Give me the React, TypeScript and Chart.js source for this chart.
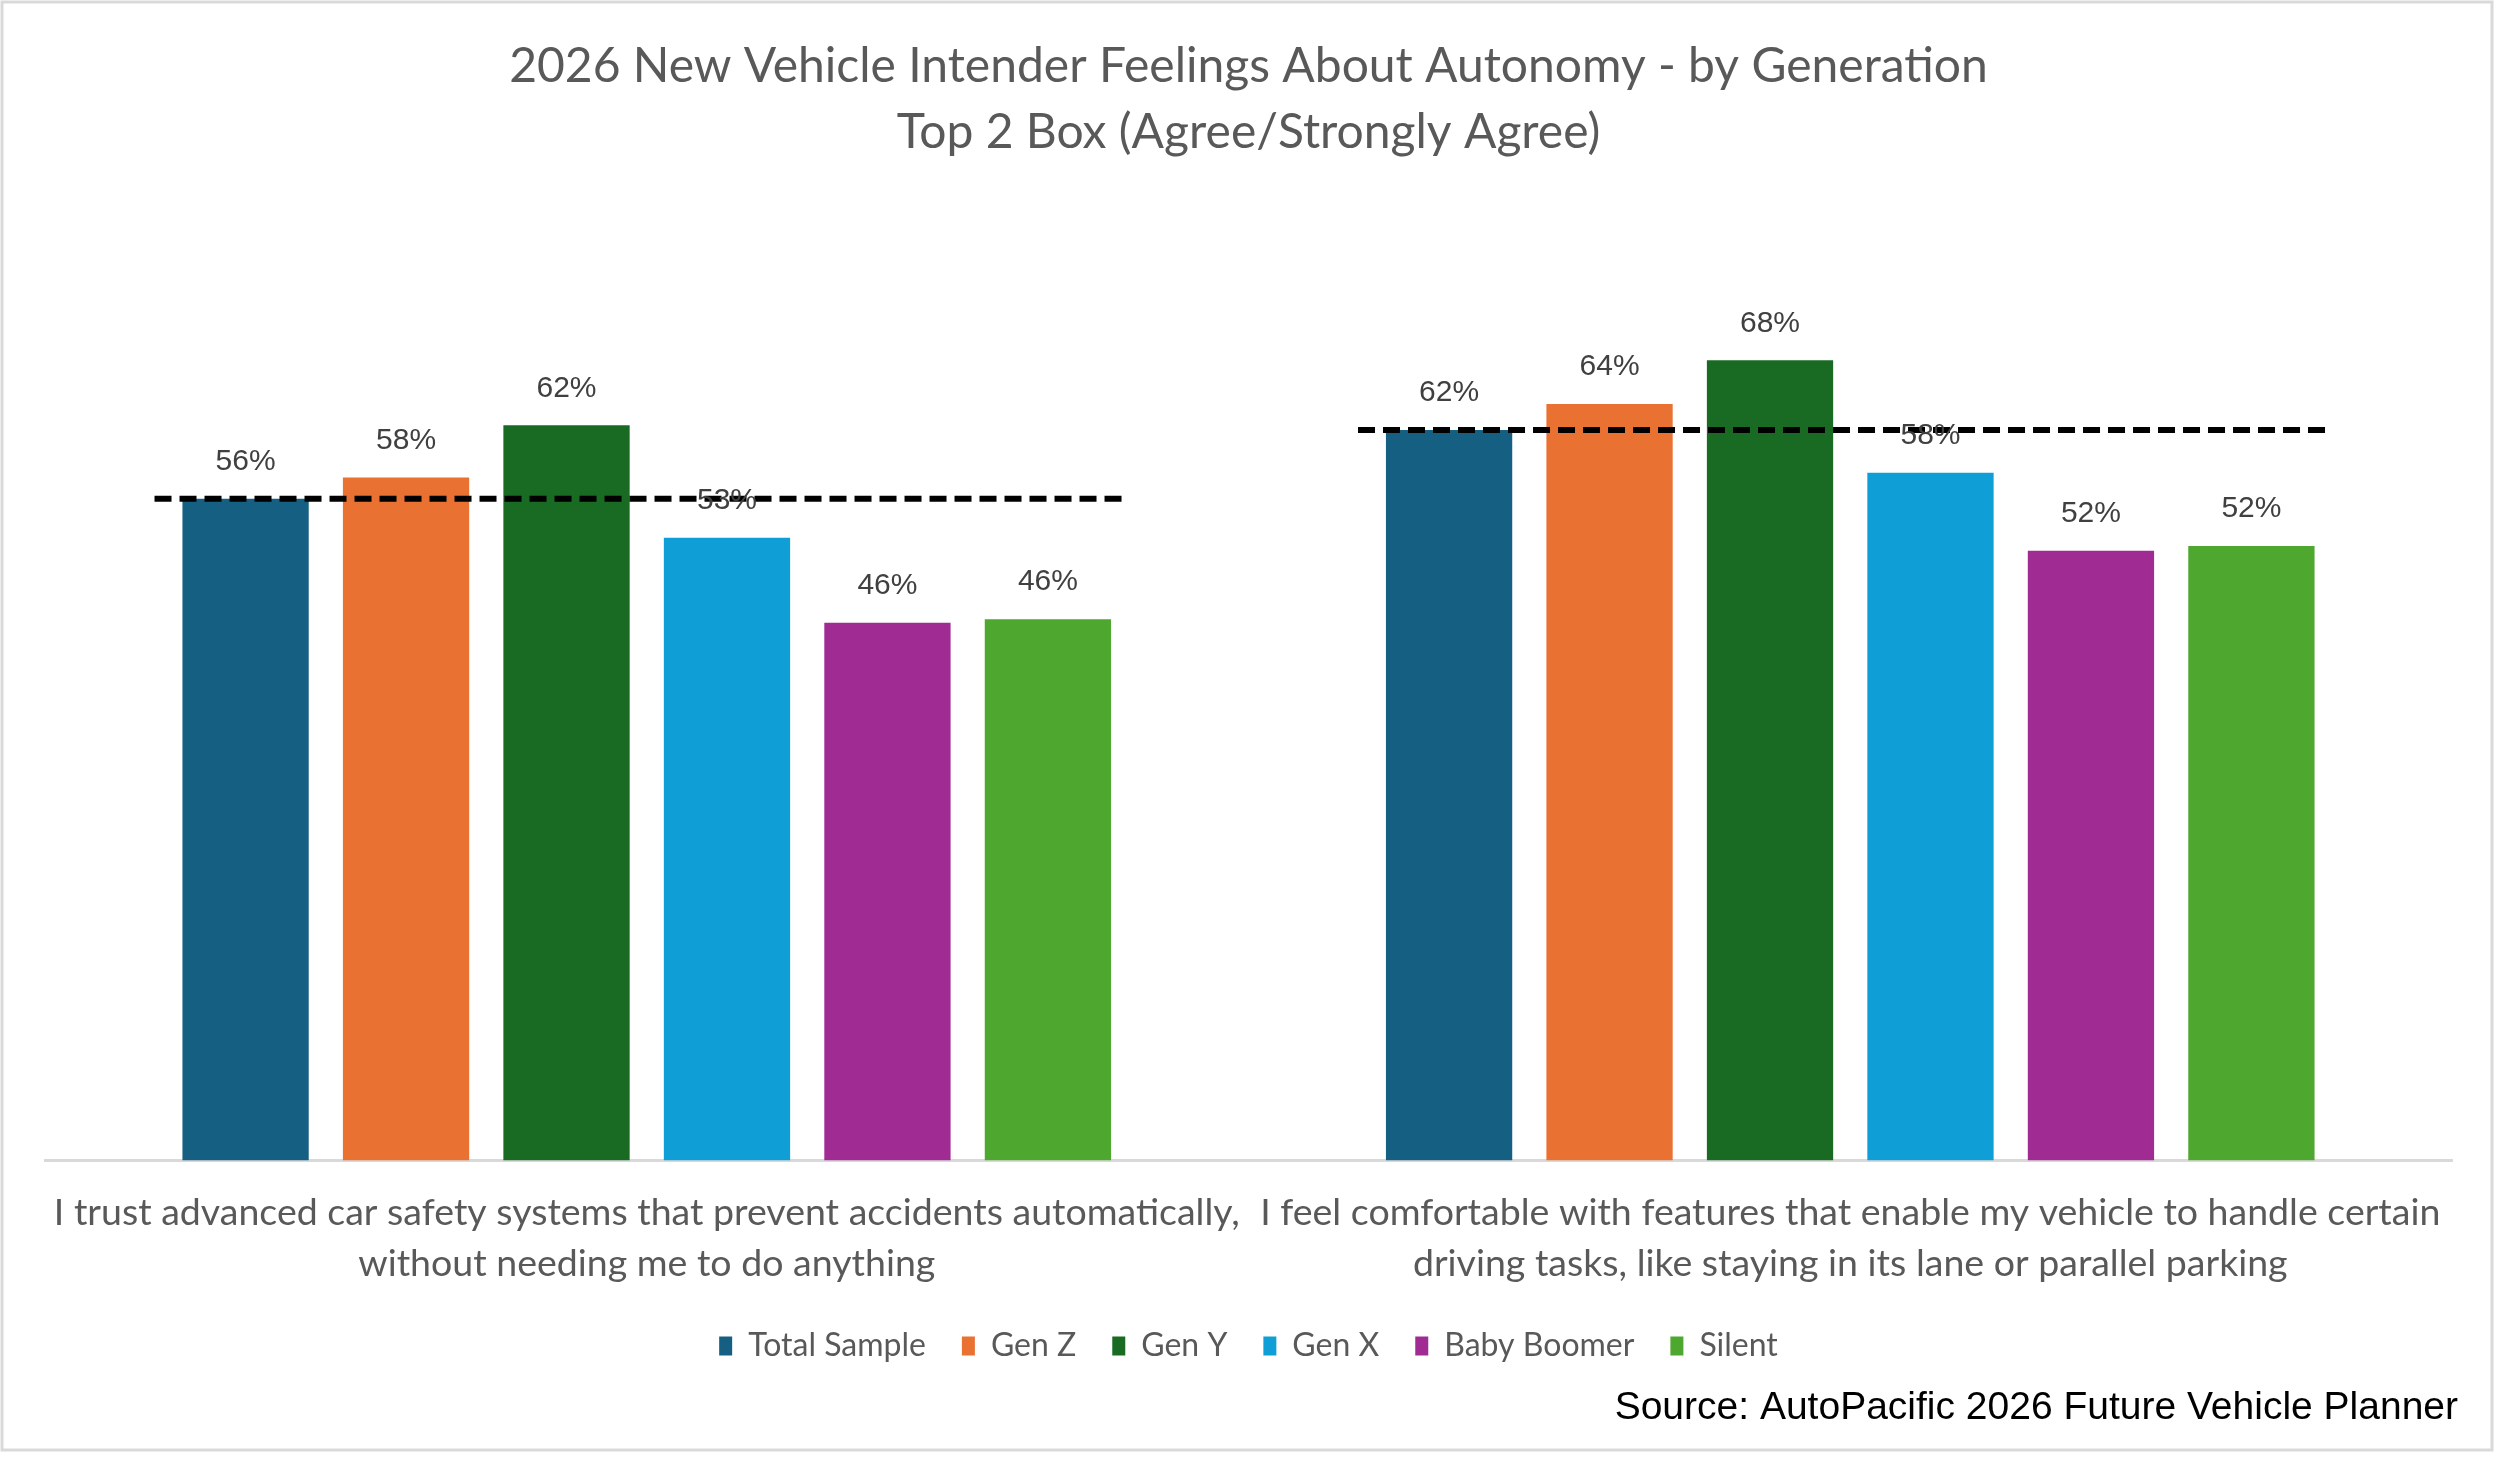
import React, { useRef, useEffect } from "react";
import { Chart, registerables } from "chart.js";

Chart.register(...registerables);

const categories = [
  ["I trust advanced car safety systems that prevent accidents automatically,", "without needing me to do anything"],
  ["I feel comfortable with features that enable my vehicle to handle certain", "driving tasks, like staying in its lane or parallel parking"],
];
const seriesNames = ["Total Sample", "Gen Z", "Gen Y", "Gen X", "Baby Boomer", "Silent"];
const seriesColors = ["#156082", "#E97132", "#196B24", "#0F9ED5", "#A02B93", "#4EA72E"];
const totalSample = [56.0, 61.8];
const genZ = [57.8, 64.0];
const genY = [62.2, 67.7];
const genX = [52.7, 58.2];
const babyBoomer = [45.5, 51.6];
const silent = [45.8, 52.0];
const seriesValues = [totalSample, genZ, genY, genX, babyBoomer, silent];
const sourceNote = "Source: AutoPacific 2026 Future Vehicle Planner";

const AXIS_FONT = "Lato";
const GRAY = "#595959";

// frame, dashed "Total Sample" reference line, value labels and source note
const overlayPlugin = {
  id: "overlay",
  beforeDraw(chart: any) {
    const { ctx, width, height } = chart;
    ctx.save();
    ctx.fillStyle = "#ffffff";
    ctx.fillRect(0, 0, width, height);
    ctx.strokeStyle = "#d9d9d9";
    ctx.lineWidth = 3;
    ctx.strokeRect(2, 2, width - 10, height - 10);
    ctx.restore();
  },
  afterDatasetsDraw(chart: any) {
    const { ctx } = chart;
    const x = chart.scales.x;
    const y = chart.scales.y;
    const catW = x.width / categories.length;
    ctx.save();
    ctx.strokeStyle = "#000000";
    ctx.lineWidth = 6;
    ctx.setLineDash([17, 8]);
    totalSample.forEach((v, i) => {
      const cx = x.getPixelForValue(i);
      const py = y.getPixelForValue(v);
      ctx.beginPath();
      ctx.moveTo(cx - catW * 0.409, py);
      ctx.lineTo(cx + catW * 0.4, py);
      ctx.stroke();
    });
    ctx.setLineDash([]);
    ctx.font = "30px 'Liberation Sans'";
    ctx.fillStyle = "#404040";
    ctx.textAlign = "center";
    ctx.textBaseline = "middle";
    chart.data.datasets.forEach((ds: any, i: number) => {
      const meta = chart.getDatasetMeta(i);
      meta.data.forEach((bar: any, j: number) => {
        ctx.fillText(Math.round(ds.data[j]) + "%", bar.x, bar.y - 37);
      });
    });
    ctx.restore();
  },
  afterDraw(chart: any) {
    const { ctx, width, height } = chart;
    ctx.save();
    ctx.font = "39px 'Liberation Sans'";
    ctx.fillStyle = "#000000";
    ctx.textAlign = "right";
    ctx.textBaseline = "middle";
    ctx.fillText(sourceNote, width - 42, height - 50);
    ctx.restore();
  },
};

export default function App() {
  const canvasRef = useRef<HTMLCanvasElement>(null);
  const chartRef = useRef<any>(null);

  useEffect(() => {
    document.body.style.margin = "0";
    const ctx = canvasRef.current!.getContext("2d")!;
    if (chartRef.current) chartRef.current.destroy();

    chartRef.current = new Chart(ctx, {
      type: "bar",
      data: {
        labels: categories,
        datasets: seriesNames.map((name, i) => ({
          label: name,
          data: seriesValues[i],
          backgroundColor: seriesColors[i],
          borderWidth: 0,
          categoryPercentage: 0.8,
          barPercentage: 0.787,
        })),
      },
      options: {
        responsive: true,
        maintainAspectRatio: false,
        animation: false,
        layout: { padding: { left: 45, right: 48, top: 0, bottom: 86 } },
        plugins: {
          title: {
            display: true,
            text: [
              "2026 New Vehicle Intender Feelings About Autonomy - by Generation",
              "Top 2 Box (Agree/Strongly Agree)",
            ],
            color: GRAY,
            font: { family: AXIS_FONT, size: 48, weight: "normal", lineHeight: 1.375 },
            padding: { top: 34, bottom: 49 },
          },
          legend: {
            position: "bottom",
            labels: {
              color: GRAY,
              font: { family: AXIS_FONT, size: 32 },
              boxWidth: 13,
              boxHeight: 19,
              padding: 36,
            },
          },
          tooltip: { enabled: false },
        },
        scales: {
          x: {
            grid: { display: false, drawTicks: true, tickLength: 22.5 },
            border: { color: "#d9d9d9", width: 3 },
            ticks: {
              color: GRAY,
              font: { family: AXIS_FONT, size: 37.5, lineHeight: 1.36 },
              padding: 4.5,
              maxRotation: 0,
              autoSkip: false,
            },
          },
          y: {
            display: false,
            min: 0,
            max: 80,
          },
        },
      },
      plugins: [overlayPlugin],
    });

    return () => {
      if (chartRef.current) {
        chartRef.current.destroy();
        chartRef.current = null;
      }
    };
  }, []);

  return (
    <div style={{ width: 2500, height: 1458, position: "relative" }}>
      <canvas ref={canvasRef} />
    </div>
  );
}
